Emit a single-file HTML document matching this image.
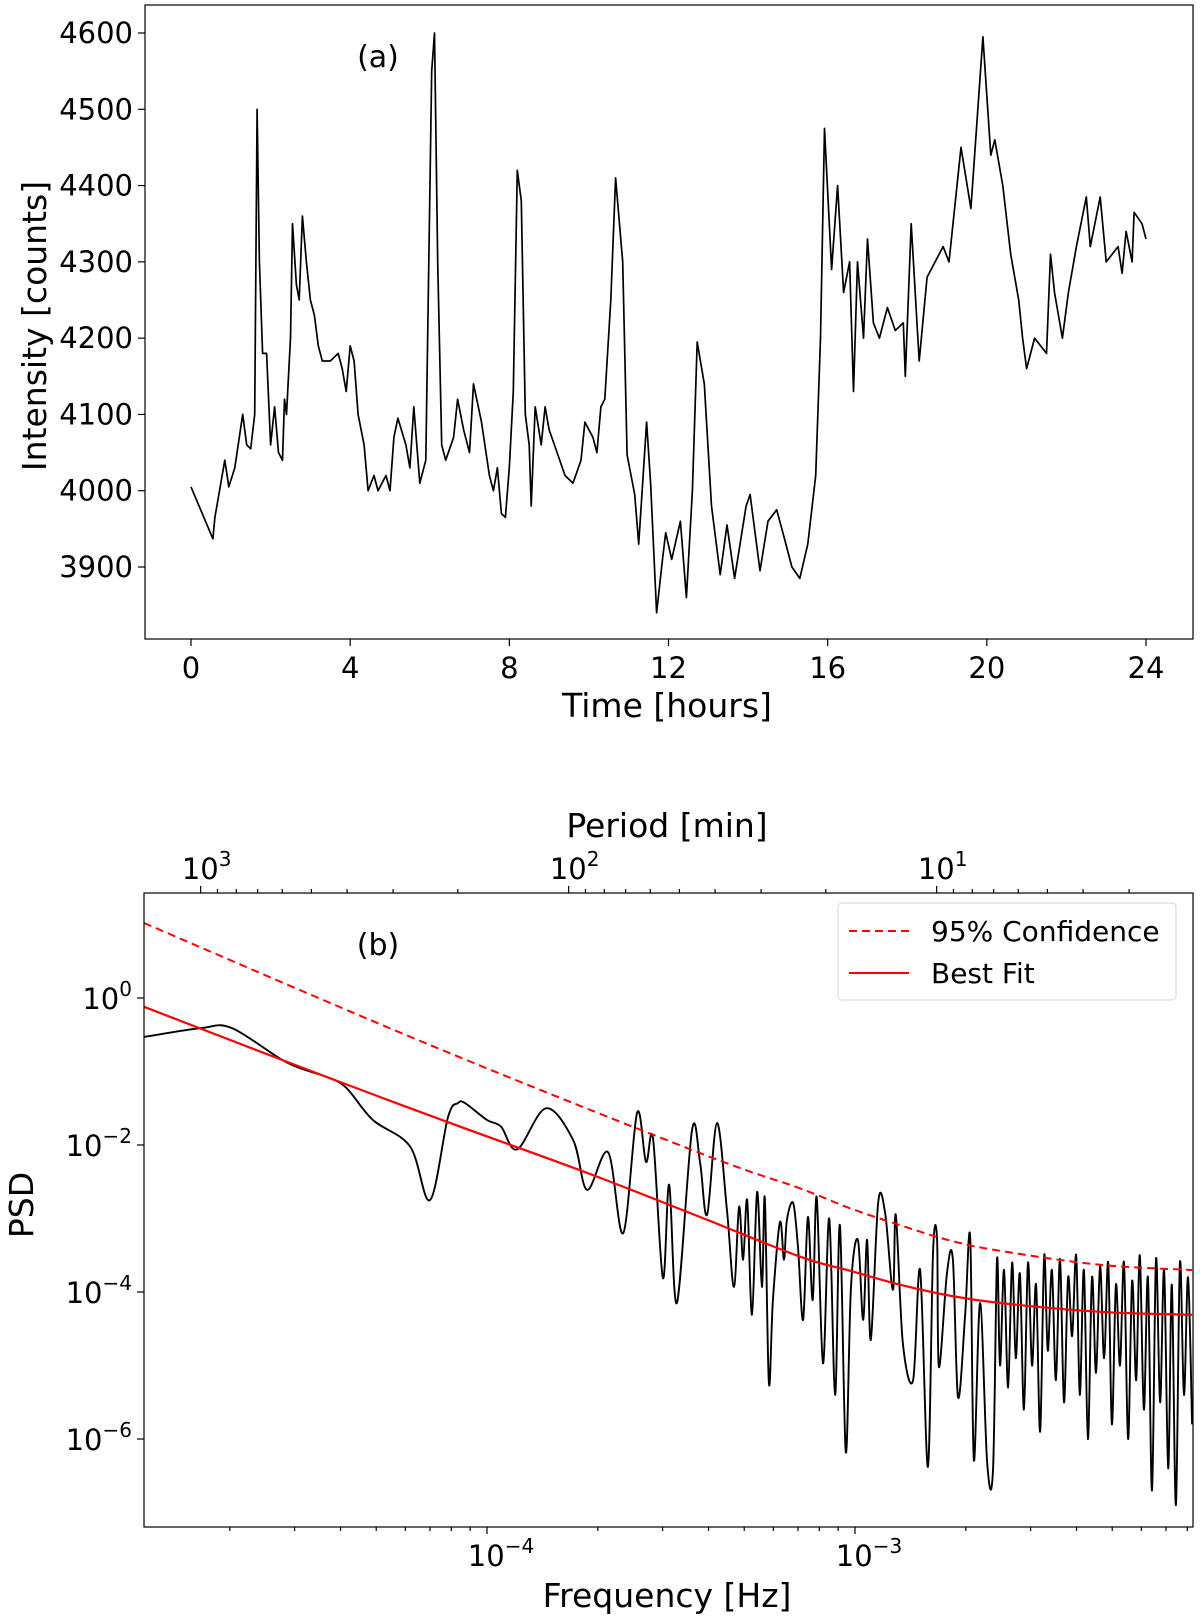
<!DOCTYPE html>
<html><head><meta charset="utf-8"><style>
html,body{margin:0;padding:0;background:#fff;}
svg{display:block;font-family:"DejaVu Sans","Liberation Sans",sans-serif;}
</style></head><body>
<svg id="fig" width="1200" height="1623" viewBox="0 0 1200 1623" xmlns="http://www.w3.org/2000/svg">
<g id="panelA"></g>
<g id="panelB"></g>
</svg>
<script>
// ---------- Panel (a) data ----------
const lcTime = [0,0.55,0.6,0.85,0.95,1.1,1.3,1.4,1.5,1.6,1.66,1.72,1.8,1.9,2.0,2.1,2.2,2.3,2.35,2.4,2.5,2.55,2.65,2.72,2.8,2.9,3.0,3.1,3.2,3.3,3.5,3.7,3.8,3.9,4.0,4.1,4.2,4.35,4.45,4.6,4.7,4.9,5.0,5.1,5.2,5.4,5.5,5.6,5.75,5.9,6.05,6.12,6.2,6.3,6.4,6.6,6.7,6.85,7.0,7.1,7.3,7.5,7.6,7.7,7.8,7.9,8.0,8.1,8.2,8.3,8.4,8.5,8.55,8.65,8.8,8.9,9.0,9.2,9.4,9.6,9.8,9.9,10.1,10.2,10.3,10.4,10.55,10.67,10.85,10.96,11.15,11.25,11.45,11.55,11.7,11.85,11.93,12.08,12.3,12.45,12.6,12.72,12.9,13.08,13.3,13.47,13.66,13.95,14.05,14.3,14.5,14.72,14.9,15.1,15.3,15.5,15.7,15.82,15.92,16.1,16.25,16.4,16.55,16.65,16.75,16.9,17.0,17.15,17.3,17.5,17.7,17.9,17.95,18.1,18.3,18.5,18.7,18.9,19.05,19.35,19.6,19.9,20.1,20.2,20.4,20.6,20.8,20.9,21.0,21.2,21.5,21.6,21.7,21.9,22.05,22.25,22.5,22.6,22.85,23.0,23.3,23.4,23.5,23.65,23.7,23.9,24.0];
const lcCounts = [4005,3937,3965,4040,4005,4030,4100,4060,4055,4100,4500,4300,4180,4180,4060,4110,4050,4040,4120,4100,4200,4350,4270,4250,4360,4300,4250,4230,4190,4170,4170,4180,4160,4130,4190,4170,4100,4060,4000,4020,4000,4020,4000,4070,4095,4060,4030,4110,4010,4040,4550,4600,4300,4060,4040,4070,4120,4080,4050,4140,4090,4020,4000,4030,3970,3965,4030,4130,4420,4380,4100,4060,3980,4110,4060,4110,4080,4050,4020,4010,4040,4090,4070,4050,4110,4120,4250,4410,4300,4047,3995,3930,4090,4010,3840,3910,3945,3910,3960,3860,4000,4195,4140,3980,3890,3955,3885,3980,3995,3895,3960,3975,3940,3900,3885,3930,4020,4200,4475,4290,4400,4260,4300,4130,4300,4200,4330,4220,4200,4240,4210,4220,4150,4350,4170,4280,4300,4320,4300,4450,4370,4595,4440,4460,4400,4310,4250,4200,4160,4200,4180,4310,4260,4200,4260,4320,4385,4320,4385,4300,4320,4285,4340,4300,4365,4350,4330];
const lcXTicks = [0,4,8,12,16,20,24];
const lcYTicks = [3900,4000,4100,4200,4300,4400,4500,4600];

// ---------- Panel (b) data (log10 values) ----------
const psdLogF = [-4.932,-4.777,-4.693,-4.543,-4.438,-4.383,-4.310,-4.209,-4.155,-4.106,-4.079,-4.060,-4.0,-3.962,-3.918,-3.840,-3.766,-3.728,-3.671,-3.630,-3.592,-3.568,-3.549,-3.522,-3.505,-3.484,-3.443,
-3.421,-3.402,-3.375,-3.348,-3.329,-3.315,-3.304,-3.293,-3.28,-3.266,-3.253,-3.245,-3.234,-3.223,-3.204,-3.193,-3.185,-3.168,-3.155,-3.141,-3.128,-3.115,-3.104,-3.087,-3.07,-3.054,-3.041,-3.025,-3.011,-2.992,-2.978,-2.967,-2.957,-2.937,-2.918,-2.897,-2.889,-2.870,-2.842,-2.823,-2.802,-2.788,-2.777,-2.772,-2.75,-2.734,-2.72,-2.701,-2.687,-2.677,-2.66,-2.641,-2.625,
-2.614,-2.606,-2.595,-2.584,-2.573,-2.563,-2.552,-2.541,-2.530,-2.519,-2.508,-2.497,-2.486,-2.476,-2.465,-2.454,-2.443,-2.432,-2.421,-2.410,-2.399,-2.389,-2.378,-2.367,-2.356,-2.345,-2.334,-2.323,-2.312,-2.302,-2.291,-2.280,-2.269,-2.258,-2.247,-2.236,-2.226,-2.215,-2.204,-2.193,-2.182,-2.171,-2.160,-2.149,-2.139,-2.128,-2.117,-2.106,-2.095,-2.084];
const psdLogP = [-0.53,-0.41,-0.41,-0.88,-1.07,-1.22,-1.66,-2.02,-2.75,-1.62,-1.43,-1.43,-1.66,-1.75,-2.06,-1.50,-1.93,-2.61,-2.10,-3.20,-1.56,-2.23,-1.91,-3.81,-2.54,-4.15,-1.80,
-2.24,-2.95,-1.70,-2.88,-3.93,-2.84,-3.56,-2.75,-4.31,-2.64,-3.93,-2.72,-5.24,-4.11,-3.05,-3.56,-3.02,-2.79,-3.39,-4.38,-2.98,-4.11,-2.71,-4.97,-3.0,-5.40,-3.09,-6.18,-3.93,-3.29,-4.38,-3.29,-4.65,-2.78,-2.93,-3.97,-2.95,-4.69,-5.20,-3.70,-6.38,-3.47,-3.29,-5.02,-3.74,-3.56,-5.43,-4.34,-3.25,-6.29,-4.15,-6.31,-6.42,
-3.55,-5.0,-3.7,-5.3,-3.6,-4.9,-3.75,-5.6,-3.6,-5.0,-3.9,-5.9,-3.5,-4.8,-3.7,-5.2,-3.55,-5.5,-3.8,-4.6,-3.5,-5.4,-3.7,-6.0,-3.8,-5.1,-3.65,-4.9,-3.6,-5.8,-3.9,-5.0,-3.6,-6.0,-3.85,-5.2,-3.5,-5.6,-3.8,-6.7,-3.55,-5.5,-3.7,-6.4,-3.9,-6.9,-3.6,-5.4,-3.8,-5.8];
const fitLogF = [-4.932,-4.438,-4.106,-3.728,-3.421,-3.149,-3.014,-2.878,-2.742,-2.606,-2.334,-2.084];
const fitLogP = [-0.12,-1.07,-1.69,-2.38,-2.98,-3.52,-3.71,-3.90,-4.05,-4.15,-4.27,-4.31];
const confLogF = [-4.932,-4.155,-3.421,-3.149,-3.014,-2.878,-2.742,-2.606,-2.334,-2.084];
const confLogP = [1.02,-0.64,-2.11,-2.59,-2.86,-3.09,-3.30,-3.44,-3.63,-3.70];
const psdYTickExp = [0,-2,-4,-6];
const freqTickExp = [-4,-3];
const periodTickExp = [3,2,1];

const NS = "http://www.w3.org/2000/svg";
function mk(tag, attrs, parent){const e=document.createElementNS(NS,tag);for(const k in attrs)e.setAttribute(k,attrs[k]);parent.appendChild(e);return e;}

// ---------- Panel (a) ----------
const A = {l:145,r:1193,t:5,b:639};
const ax = t => 191 + t*(1146-191)/24;
const ay = v => 33 + (4600-v)*(567-33)/700;
const gA = document.getElementById('panelA');
let dA = lcTime.map((t,i)=>(i?'L':'M')+ax(t).toFixed(1)+','+ay(lcCounts[i]).toFixed(1)).join('');
const lc = mk('path',{d:dA,fill:'none',stroke:'#000','stroke-width':1.7,'stroke-linejoin':'round'},gA);


const fa = mk('rect',{x:A.l,y:A.t,width:A.r-A.l,height:A.b-A.t,fill:'none',stroke:'#000','stroke-width':1.2},gA);


lcXTicks.forEach(t=>{
  mk('line',{x1:ax(t),x2:ax(t),y1:A.b,y2:A.b+7,stroke:'#000','stroke-width':1.2},gA);
  const tx = mk('text',{x:ax(t),y:A.b+39,'font-size':29,'text-anchor':'middle'},gA);
  tx.textContent = t;
  
  
});
lcYTicks.forEach(v=>{
  mk('line',{x1:A.l-7,x2:A.l,y1:ay(v),y2:ay(v),stroke:'#000','stroke-width':1.2},gA);
  const tx = mk('text',{x:A.l-12,y:ay(v)+10,'font-size':29,'text-anchor':'end'},gA);
  tx.textContent = v;
  
  
});
let t1 = mk('text',{x:667,y:717,'font-size':33,'text-anchor':'middle'},gA); t1.textContent='Time [hours]';


let t2 = mk('text',{x:0,y:0,'font-size':33,'text-anchor':'middle',transform:'translate(46,326) rotate(-90)'},gA); t2.textContent='Intensity [counts]';


let t3 = mk('text',{x:378,y:67,'font-size':30,'text-anchor':'middle'},gA); t3.textContent='(a)';



// ---------- Panel (b) ----------
const B = {l:144,r:1193,t:893,b:1527};
const bx = lf => 487 + (lf+4)*368;
const by = lp => 998 - lp*73.5;
const gB = document.getElementById('panelB');
const defs = mk('defs',{},gB);
const clip = mk('clipPath',{id:'clipb'},defs);
mk('rect',{x:B.l,y:B.t,width:B.r-B.l,height:B.b-B.t},clip);
function smooth(xs,ys){
  const p = xs.map((x,i)=>[bx(x),by(ys[i])]);
  let s='M'+p[0][0].toFixed(1)+','+p[0][1].toFixed(1);
  for(let i=0;i<p.length-1;i++){
    const p0=p[Math.max(0,i-1)],p1=p[i],p2=p[i+1],p3=p[Math.min(p.length-1,i+2)];
    const c1=[p1[0]+(p2[0]-p0[0])/6,p1[1]+(p2[1]-p0[1])/6];
    const c2=[p2[0]-(p3[0]-p1[0])/6,p2[1]-(p3[1]-p1[1])/6];
    s+='C'+c1[0].toFixed(1)+','+c1[1].toFixed(1)+' '+c2[0].toFixed(1)+','+c2[1].toFixed(1)+' '+p2[0].toFixed(1)+','+p2[1].toFixed(1);
  }
  return s;
}
const gc = mk('g',{'clip-path':'url(#clipb)'},gB);
const psd = mk('path',{d:smooth(psdLogF,psdLogP),fill:'none',stroke:'#000','stroke-width':1.9,'stroke-linejoin':'round'},gc);


const conf = mk('path',{d:smooth(confLogF,confLogP),fill:'none',stroke:'#f00','stroke-width':2,'stroke-dasharray':'8,5'},gc);


const fit = mk('path',{d:smooth(fitLogF,fitLogP),fill:'none',stroke:'#f00','stroke-width':2.2},gc);


const fb = mk('rect',{x:B.l,y:B.t,width:B.r-B.l,height:B.b-B.t,fill:'none',stroke:'#000','stroke-width':1.2},gB);


function pow(x,y,exp,anchor,parent,name){
  const tx = mk('text',{x:x,y:y,'font-size':29,'text-anchor':anchor},parent);
  tx.appendChild(document.createTextNode('10'));
  const sp = mk('tspan',{dy:-13,'font-size':20},tx);
  sp.textContent = exp<0 ? '\u2212'+(-exp) : String(exp);
  
  
}
psdYTickExp.forEach(e=>{
  mk('line',{x1:B.l-7,x2:B.l,y1:by(e),y2:by(e),stroke:'#000','stroke-width':1.2},gB);
  pow(B.l-12,by(e)+11,e,'end',gB,'psd-y-tick-label');
});
for(let dec=-5;dec<=-3;dec++){for(let m=1;m<10;m++){
  const lf = dec+Math.log10(m); const x=bx(lf);
  if(x<B.l||x>B.r) continue;
  mk('line',{x1:x,x2:x,y1:B.b,y2:B.b+(m===1?7:4),stroke:'#000','stroke-width':1.2},gB);
}}
freqTickExp.forEach(e=>pow(bx(e)+14,B.b+39,e,'middle',gB,'freq-tick-label'));
for(let dec=0;dec<=3;dec++){for(let m=1;m<10;m++){
  const P = m*Math.pow(10,dec); const lf = -Math.log10(60*P); const x=bx(lf);
  if(x<B.l||x>B.r) continue;
  mk('line',{x1:x,x2:x,y1:B.t,y2:B.t-(m===1?7:4),stroke:'#000','stroke-width':1.2},gB);
}}
periodTickExp.forEach(e=>{const x=bx(-Math.log10(60*Math.pow(10,e)));pow(x+6,B.t-14,e,'middle',gB,'period-tick-label');});
let b1 = mk('text',{x:667,y:1607,'font-size':33,'text-anchor':'middle'},gB); b1.textContent='Frequency [Hz]';


let b2 = mk('text',{x:667,y:837,'font-size':33,'text-anchor':'middle'},gB); b2.textContent='Period [min]';


let b3 = mk('text',{x:0,y:0,'font-size':33,'text-anchor':'middle',transform:'translate(33,1205) rotate(-90)'},gB); b3.textContent='PSD';


let b4 = mk('text',{x:378,y:955,'font-size':30,'text-anchor':'middle'},gB); b4.textContent='(b)';


const lg = mk('g',{},gB);


mk('rect',{x:838,y:903,width:338,height:97,rx:4,fill:'#fff','fill-opacity':0.8,stroke:'#ddd','stroke-width':1.2},lg);
mk('line',{x1:849,x2:909,y1:931,y2:931,stroke:'#f00','stroke-width':2,'stroke-dasharray':'8,5'},lg);
mk('line',{x1:849,x2:909,y1:973,y2:973,stroke:'#f00','stroke-width':2},lg);
let l1 = mk('text',{x:931,y:941,'font-size':28},lg); l1.textContent='95% Confidence';


let l2 = mk('text',{x:931,y:983,'font-size':28},lg); l2.textContent='Best Fit';


</script>
</body></html>
